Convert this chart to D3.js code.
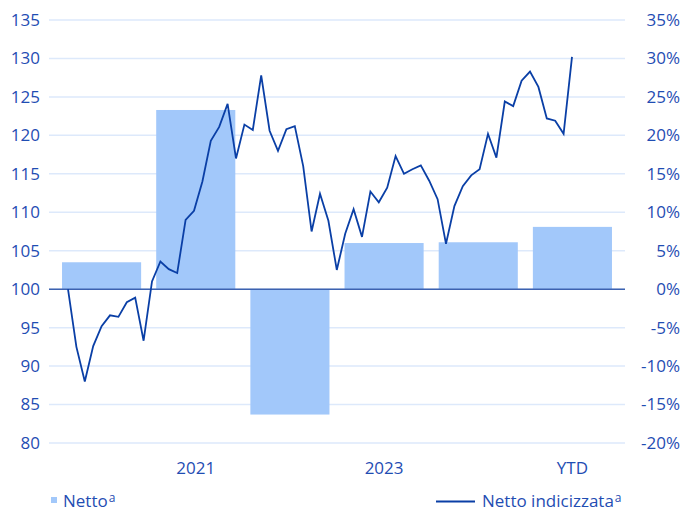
<!DOCTYPE html>
<html>
<head>
<meta charset="utf-8">
<script src="https://cdn.jsdelivr.net/npm/d3@7"></script>
<style>
  body { margin: 0; background: #fff; }
  svg { display: block; font-family: "Open Sans", sans-serif; }
</style>
</head>
<body>
<div id="chart"></div>
<script>
// yearly net return (bars, right axis)
const years = ['2020', '2021', '2022', '2023', '2024', 'YTD'];
const yearLabels = { '2021': '2021', '2023': '2023', 'YTD': 'YTD' };
const netto = [0.035, 0.233, -0.163, 0.060, 0.061, 0.081];

// monthly indexed net value (line, left axis), base 100
const indicizzata = [
  100, 92.5, 88.0, 92.6, 95.2, 96.6, 96.4, 98.3, 98.9, 93.3,
  101.0, 103.6, 102.6, 102.1, 109.0, 110.2, 114.0, 119.3, 121.1, 124.1,
  117.0, 121.4, 120.7, 127.8, 120.6, 118.0, 120.8, 121.2, 116.0, 107.5,
  112.4, 108.9, 102.5, 107.2, 110.4, 106.8, 112.7, 111.3, 113.2, 117.3,
  115.0, 115.6, 116.1, 114.1, 111.7, 105.9, 110.8, 113.4, 114.8, 115.6,
  120.2, 117.1, 124.4, 123.8, 127.1, 128.3, 126.3, 122.2, 121.9, 120.2,
  130.2
];

const leftTicks = d3.range(80, 136, 5);
const rightTicks = d3.range(-0.20, 0.351, 0.05);

const width = 684, height = 509;
const plot = { left: 49, right: 625, top: 20, bottom: 443 };
const textColor = '#1f4db3';

const svg = d3.select('#chart').append('svg')
  .attr('width', width).attr('height', height);

const x = d3.scaleBand().domain(years)
  .range([54.5, 619.5])
  .paddingInner(0.16).paddingOuter(0.08);

const xLine = d3.scaleLinear()
  .domain([0, indicizzata.length - 1])
  .range([68, 572]);

const yLeft = d3.scaleLinear().domain([80, 135]).range([plot.bottom, plot.top]);
const yRight = d3.scaleLinear().domain([-0.20, 0.35]).range([plot.bottom, plot.top]);

// gridlines
svg.append('g').selectAll('line')
  .data(leftTicks)
  .join('line')
  .attr('x1', plot.left).attr('x2', plot.right)
  .attr('y1', (d) => yLeft(d)).attr('y2', (d) => yLeft(d))
  .attr('stroke', '#dde9fb')
  .attr('stroke-width', 1.5);

// bars
svg.append('g').selectAll('rect')
  .data(years.map((y, i) => ({ year: y, v: netto[i] })))
  .join('rect')
  .attr('x', (d) => x(d.year))
  .attr('width', x.bandwidth())
  .attr('y', (d) => yRight(Math.max(0, d.v)))
  .attr('height', (d) => Math.abs(yRight(d.v) - yRight(0)))
  .attr('fill', '#a2c8fa');

// zero line
svg.append('line')
  .attr('x1', plot.left).attr('x2', plot.right)
  .attr('y1', yLeft(100)).attr('y2', yLeft(100))
  .attr('stroke', '#3d62b0')
  .attr('stroke-width', 1.5);

// indexed line
const line = d3.line()
  .x((d, i) => xLine(i))
  .y((d) => yLeft(d));

svg.append('path')
  .datum(indicizzata)
  .attr('d', line)
  .attr('fill', 'none')
  .attr('stroke', '#0a3fa6')
  .attr('stroke-width', 1.8)
  .attr('stroke-linejoin', 'miter');

// left axis labels
svg.append('g').selectAll('text')
  .data(leftTicks)
  .join('text')
  .attr('x', 40)
  .attr('y', (d) => yLeft(d))
  .attr('dy', '0.35em')
  .attr('text-anchor', 'end')
  .attr('font-size', 17)
  .attr('fill', textColor)
  .text((d) => d);

// right axis labels
svg.append('g').selectAll('text')
  .data(rightTicks)
  .join('text')
  .attr('x', 680)
  .attr('y', (d) => yRight(d))
  .attr('dy', '0.35em')
  .attr('text-anchor', 'end')
  .attr('font-size', 17)
  .attr('fill', textColor)
  .text((d) => `${Math.round(d * 100)}%`);

// x labels
svg.append('g').selectAll('text')
  .data(years.filter((y) => yearLabels[y]))
  .join('text')
  .attr('x', (d) => x(d) + x.bandwidth() / 2)
  .attr('y', 474)
  .attr('text-anchor', 'middle')
  .attr('font-size', 17)
  .attr('fill', textColor)
  .text((d) => yearLabels[d]);

// legend
const legend = svg.append('g');
legend.append('rect')
  .attr('x', 51).attr('y', 497).attr('width', 6).attr('height', 6)
  .attr('fill', '#a2c8fa');
const t1 = legend.append('text')
  .attr('x', 63).attr('y', 507)
  .attr('font-size', 17).attr('fill', textColor);
t1.append('tspan').text('Netto');
t1.append('tspan').attr('font-size', 12).attr('dy', -5).attr('dx', 1).text('a');

legend.append('line')
  .attr('x1', 436).attr('x2', 475).attr('y1', 501.5).attr('y2', 501.5)
  .attr('stroke', '#0a3fa6').attr('stroke-width', 1.8);
const t2 = legend.append('text')
  .attr('x', 482).attr('y', 507)
  .attr('font-size', 17).attr('fill', textColor);
t2.append('tspan').text('Netto indicizzata');
t2.append('tspan').attr('font-size', 12).attr('dy', -5).attr('dx', 1).text('a');
</script>
</body>
</html>
